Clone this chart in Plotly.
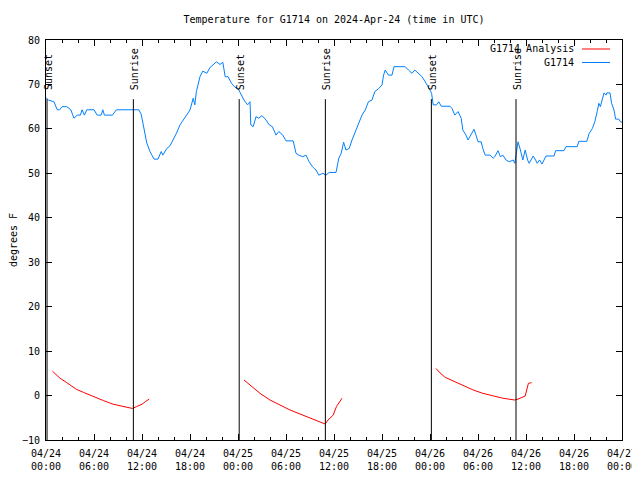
import plotly.graph_objects as go
import pandas as pd

BASE = pd.Timestamp("2024-04-24 00:00")

# Observed G1714 temperatures (hours after 04/24 00:00 UTC, degrees F)
obs_hours = [0.0, 0.3, 1.0, 1.4, 1.7, 2.0, 2.6, 3.1, 3.5, 3.9, 4.3, 4.5, 4.8, 5.1, 6.0, 6.4, 6.9, 7.1, 7.3, 8.3,
             8.8, 11.6, 11.9, 12.1, 12.6, 13.0, 13.5, 14.0, 14.4, 14.6, 15.1, 15.5, 15.9, 16.3, 16.75, 17.2, 17.6,
             18.0, 18.4, 18.6, 18.8, 19.25, 19.6, 20.1, 20.5, 20.9, 21.3, 21.75, 22.1, 22.4, 22.75, 23.2, 23.6,
             24.0, 24.4, 24.75, 25.2, 25.5, 25.6, 25.9, 26.25, 26.6, 27.0, 27.5, 27.9, 28.3, 28.75, 29.1, 29.6,
             30.0, 30.9, 31.25, 31.6, 32.1, 32.5, 32.9, 33.3, 33.75, 34.1, 34.6, 35.0, 35.4, 36.25, 36.4, 36.6,
             36.9, 37.2, 37.5, 37.9, 38.25, 38.6, 39.1, 39.5, 39.9, 40.3, 40.75, 41.1, 41.6, 42.0, 42.2, 42.4,
             42.8, 43.25, 43.5, 44.9, 45.3, 45.75, 46.1, 46.6, 47.0, 47.4, 47.8, 48.0, 48.2, 48.4, 48.8, 49.1,
             49.4, 50.5, 50.75, 51.1, 51.5, 51.9, 52.1, 52.5, 52.75, 53.2, 53.5, 53.75, 54.0, 54.4, 54.6, 54.9,
             55.5, 55.9, 56.1, 56.5, 56.8, 57.1, 57.5, 57.9, 58.4, 58.6, 58.75, 59.0, 59.3, 59.6, 59.9, 60.2,
             60.4, 60.6, 60.9, 61.2, 61.4, 61.7, 62.0, 62.25, 62.5, 63.5, 63.7, 64.75, 65.0, 66.4, 66.6, 67.6,
             67.9, 68.3, 68.6, 68.9, 69.1, 69.3, 69.5, 69.75, 70.0, 70.1, 70.5, 70.7, 71.0, 71.2, 71.6, 71.8, 72.0]
obs_temps = [67.0, 66.5, 66.1, 64.3, 64.3, 65.0, 65.0, 64.3, 62.4, 63.1, 63.1, 64.3, 63.1, 64.3, 64.3, 63.1, 63.1,
             64.3, 63.1, 63.1, 64.3, 64.3, 63.3, 61.6, 56.8, 54.9, 53.2, 53.2, 54.9, 54.1, 55.6, 56.2, 57.5, 59.0,
             60.9, 62.2, 63.1, 64.25, 66.9, 65.4, 68.4, 71.75, 73.0, 72.5, 73.8, 74.4, 75.1, 74.5, 75.0, 71.75,
             71.75, 70.25, 69.4, 69.1, 67.6, 66.5, 65.4, 66.1, 60.9, 60.5, 62.75, 62.4, 63.0, 62.0, 60.9, 60.5,
             58.6, 59.4, 58.6, 57.3, 57.3, 54.5, 54.1, 53.75, 54.1, 52.6, 51.5, 50.75, 49.6, 50.0, 49.6, 50.2,
             50.2, 51.5, 53.4, 54.5, 57.0, 55.25, 55.6, 57.5, 59.0, 61.25, 63.1, 64.25, 66.1, 66.5, 68.4, 69.1,
             69.9, 72.1, 73.25, 72.1, 72.1, 74.0, 74.0, 73.25, 72.5, 73.25, 72.5, 71.75, 70.6, 69.5, 68.75, 68.0,
             65.4, 65.4, 66.1, 65.1, 65.1, 64.6, 63.1, 63.9, 62.4, 59.75, 58.6, 57.5, 59.0, 59.9, 58.6, 57.1, 57.1,
             55.6, 54.1, 54.1, 53.4, 53.75, 55.1, 53.75, 54.1, 53.0, 52.6, 53.0, 52.25, 53.75, 57.1, 55.25, 53.0,
             55.25, 53.0, 52.25, 53.0, 53.9, 53.0, 52.25, 53.0, 52.1, 53.0, 53.9, 53.9, 55.1, 55.1, 56.0, 56.0,
             57.2, 57.2, 59.0, 60.1, 61.6, 63.9, 65.75, 65.0, 66.5, 68.1, 67.6, 68.1, 68.1, 65.75, 64.25, 62.2,
             62.2, 61.6, 61.5]

# G1714 Analysis (three separate runs; None marks a gap)
ana_hours = [0.8, 1.75, 2.6, 3.8, 4.7, 5.9, 7.2, 8.4, 9.7, 10.8, 11.3, 12.0, 12.4, 12.9, None,
             24.75, 25.7, 26.75, 28.0, 29.25, 30.5, 31.75, 33.0, 34.25, 34.9, 35.25, 35.9, 36.3, 37.0, None,
             48.75, 49.25, 49.9, 50.9, 52.1, 53.4, 54.6, 55.9, 57.1, 58.6, 59.0, 59.9, 60.3, 60.7]
ana_temps = [5.5, 3.9, 2.9, 1.4, 0.7, -0.25, -1.15, -1.95, -2.5, -2.9, -2.5, -1.95, -1.4, -0.8, None,
             3.5, 2.0, 0.5, -1.0, -2.1, -3.25, -4.15, -5.1, -5.9, -6.4, -5.5, -4.4, -2.5, -0.6, None,
             6.1, 5.1, 4.1, 3.3, 2.4, 1.25, 0.5, -0.1, -0.6, -1.0, -0.8, -0.1, 2.75, 2.9]

# Sun events (hours after 04/24 00:00 UTC)
sun_labels = ["Sunset", "Sunrise", "Sunset", "Sunrise", "Sunset", "Sunrise"]
sun_hours = [0.13, 10.92, 24.15, 34.92, 48.17, 58.75]

legend_names = ["G1714 Analysis", "G1714"]
legend_colors = ["#ff0000", "#0080ff"]


def to_time(hours):
    return [None if h is None else BASE + pd.Timedelta(hours=h) for h in hours]


FONT = "DejaVu Sans Mono"
OFF = 8  # page body margin
W, H = 640, 480 - 2 * OFF

fig = go.Figure()
fig.add_trace(go.Scatter(x=to_time(ana_hours), y=ana_temps, mode="lines",
                         line=dict(color=legend_colors[0], width=1), name=legend_names[0],
                         connectgaps=False, showlegend=False))
fig.add_trace(go.Scatter(x=to_time(obs_hours), y=obs_temps, mode="lines",
                         line=dict(color=legend_colors[1], width=1), name=legend_names[1],
                         showlegend=False))

for lab, h in zip(sun_labels, sun_hours):
    t = BASE + pd.Timedelta(hours=h)
    fig.add_shape(type="line", xref="x", yref="y", x0=t, x1=t, y0=-10, y1=66.7,
                  line=dict(color="black", width=1))
    fig.add_annotation(x=t, y=68.3, xref="x", yref="y", text=lab, textangle=-90,
                       showarrow=False, xanchor="center", yanchor="bottom", xshift=1,
                       font=dict(family=FONT, size=10, color="black"))

# gnuplot-style legend: text, then line sample
for i, (nm, col) in enumerate(zip(legend_names, legend_colors)):
    ypx = 49 + 13.5 * i
    yp = (440 - ypx) / 400
    fig.add_annotation(x=(576 - 46) / 576, y=yp, xref="paper", yref="paper", text=nm,
                       showarrow=False, xanchor="right", yanchor="middle",
                       font=dict(family=FONT, size=10, color="black"))
    fig.add_shape(type="line", xref="paper", yref="paper",
                  x0=(582 - 46) / 576, x1=(610 - 46) / 576, y0=yp, y1=yp,
                  line=dict(color=col, width=1))

fig.update_layout(
    width=W, height=H,
    margin=dict(l=46 - OFF, r=W + OFF - 622, t=40 - OFF, b=H + OFF - 440, autoexpand=False),
    paper_bgcolor="white", plot_bgcolor="white",
    font=dict(family=FONT, size=10, color="black"),
    title=dict(text="Temperature for G1714 on 2024-Apr-24 (time in UTC)",
               x=(334 - OFF) / W, xanchor="center",
               y=1 - (19 - OFF) / H, yanchor="middle", font=dict(family=FONT, size=10)),
    showlegend=False,
)
fig.update_xaxes(
    type="date", range=[BASE, BASE + pd.Timedelta(hours=72)],
    tick0=BASE, dtick=6 * 3600 * 1000, tickformat="%m/%d<br>%H:%M",
    ticks="inside", ticklen=6, tickcolor="black", ticklabelstandoff=4,
    minor=dict(dtick=2 * 3600 * 1000, tick0=BASE, ticks="inside", ticklen=3, tickcolor="black"),
    showline=True, linecolor="black", linewidth=1, mirror="ticks",
    showgrid=False, zeroline=False, automargin=False,
    tickfont=dict(family=FONT, size=10, color="black"),
)
fig.update_yaxes(
    range=[-10, 80], dtick=10, tick0=0,
    ticks="inside", ticklen=6, tickcolor="black", ticklabelstandoff=3,
    showline=True, linecolor="black", linewidth=1, mirror="ticks",
    showgrid=False, zeroline=False, automargin=False,
    title=dict(text="degrees F", font=dict(family=FONT, size=10), standoff=8),
    tickfont=dict(family=FONT, size=10, color="black"),
)

fig.write_html("out.html")
